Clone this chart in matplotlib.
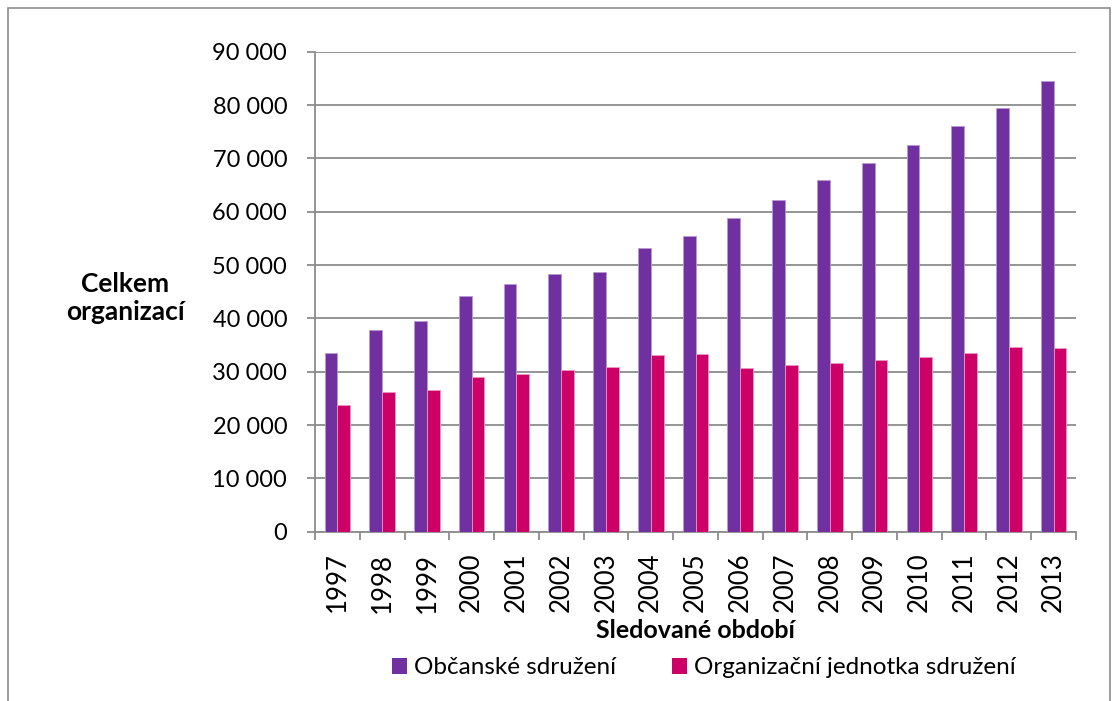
import numpy as np
import matplotlib
matplotlib.use("Agg")
import matplotlib.pyplot as plt
from matplotlib.patches import Rectangle, Patch
from matplotlib.ticker import FuncFormatter

years = ["1997", "1998", "1999", "2000", "2001", "2002", "2003", "2004", "2005",
         "2006", "2007", "2008", "2009", "2010", "2011", "2012", "2013"]
obcanske = [33600, 37800, 39450, 44200, 46400, 48400, 48750, 53250, 55350,
            58800, 62250, 65900, 69050, 72500, 76050, 79450, 84450]
jednotky = [23800, 26200, 26500, 29000, 29600, 30300, 30900, 33100, 33300,
            30750, 31200, 31550, 32250, 32700, 33600, 34600, 34500]
series_names = ["Občanské sdružení", "Organizační jednotka sdružení"]
y_label = "Celkem\norganizací"
x_label = "Sledované období"

plt.rcParams['font.family'] = ['Lato', 'DejaVu Sans']

W, H = 1117, 701
fig = plt.figure(figsize=(W / 100, H / 100), dpi=100)
fig.patch.set_facecolor("white")

left, right, top, bottom = 315, 1076, 51.7, 531.7
ax = fig.add_axes([left / W, 1 - bottom / H, (right - left) / W, (bottom - top) / H])

x = np.arange(len(years))
w = 0.2857
purple = "#7030A0"
pink = "#CC0066"
ax.bar(x - w / 2, obcanske, width=w, color=purple, edgecolor="#B99AD0", linewidth=0.6, zorder=3)
ax.bar(x + w / 2, jednotky, width=w, color=pink, edgecolor="#E899C2", linewidth=0.6, zorder=3)

ax.set_xlim(-0.5, len(years) - 0.5)
ax.set_ylim(0, 90000)
ax.set_yticks(np.arange(0, 90001, 10000))
ax.yaxis.set_major_formatter(FuncFormatter(lambda v, p: f"{int(v):,}".replace(",", " ")))
ax.grid(axis="y", color="#8C8C8C", linewidth=1.3, zorder=0)
ax.set_axisbelow(True)

ax.set_xticks(x)
ax.set_xticklabels(years, rotation=90)
ax.set_xticks(np.arange(-0.5, len(years)), minor=True)
ax.tick_params(axis="x", which="major", length=0, pad=15, labelsize=18.5)
ax.tick_params(axis="x", which="minor", length=6, width=1.3, color="#8C8C8C", direction="out")
ax.tick_params(axis="y", length=6, width=1.3, color="#8C8C8C", direction="out", pad=14, labelsize=17)

for s in ["top", "right"]:
    ax.spines[s].set_visible(False)
for s in ["left", "bottom"]:
    ax.spines[s].set_color("#8C8C8C")
    ax.spines[s].set_linewidth(1.3)

fig.text(125 / W, 1 - 298 / H, y_label, ha="center", va="center", fontsize=19,
         fontweight="bold", linespacing=1.2)
fig.text(695 / W, 1 - 631 / H, x_label, ha="center", va="center", fontsize=18, fontweight="bold")

handles = [Patch(facecolor=purple), Patch(facecolor=pink)]
fig.legend(handles, series_names, loc="center", bbox_to_anchor=(704 / W, 1 - 668 / H),
           ncol=2, frameon=False, fontsize=17.5, handlelength=0.6, handleheight=0.6,
           handletextpad=0.3, columnspacing=2.3, borderpad=0)

fig.add_artist(Rectangle((7.5 / W, -0.05), (1110 - 7.5) / W, 1.05 - 8.5 / H,
                         transform=fig.transFigure, fill=False, edgecolor="#8C8C8C",
                         linewidth=1.2))

fig.savefig("out.png", dpi=100)
